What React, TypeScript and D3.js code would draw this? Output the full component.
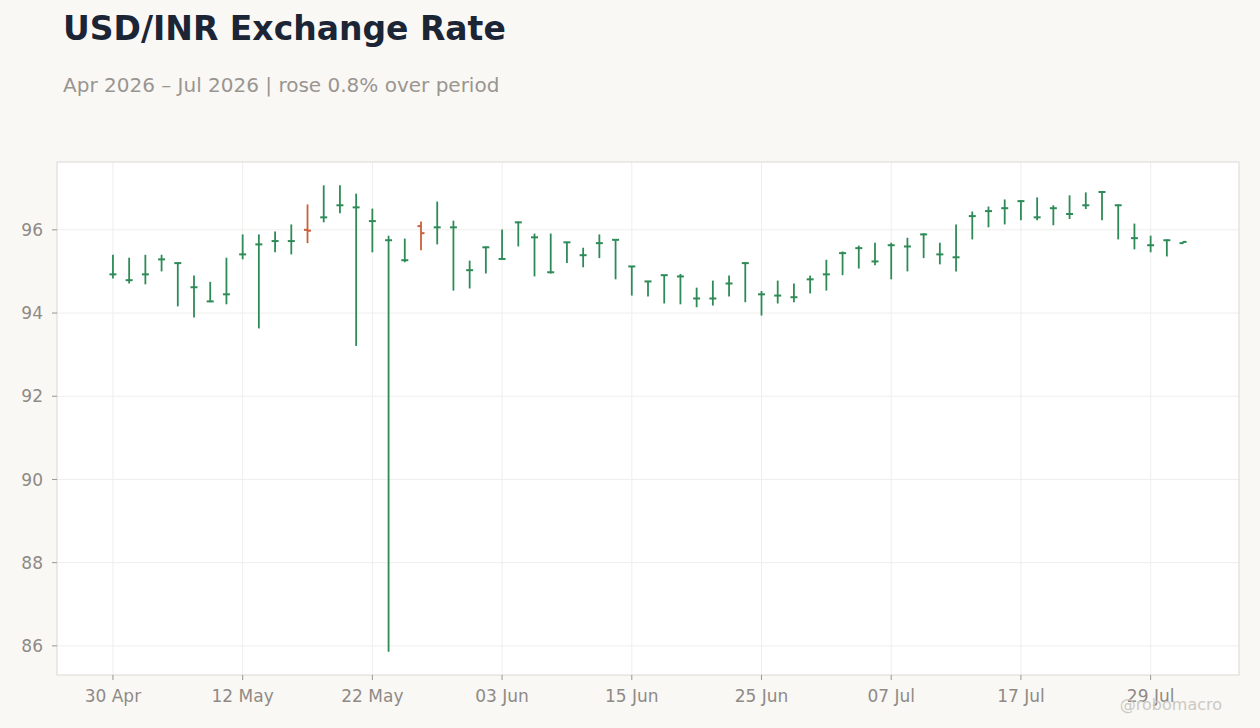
import React, { useMemo } from "react";
import * as d3 from "d3";

// trading days (weekdays) shown on the chart
const dates: string[] = [
	"2026-04-30", "2026-05-01", "2026-05-04", "2026-05-05", "2026-05-06", "2026-05-07", "2026-05-08",
	"2026-05-11", "2026-05-12", "2026-05-13", "2026-05-14", "2026-05-15", "2026-05-18", "2026-05-19",
	"2026-05-20", "2026-05-21", "2026-05-22", "2026-05-25", "2026-05-26", "2026-05-27", "2026-05-28",
	"2026-05-29", "2026-06-01", "2026-06-02", "2026-06-03", "2026-06-04", "2026-06-05", "2026-06-08",
	"2026-06-09", "2026-06-10", "2026-06-11", "2026-06-12", "2026-06-15", "2026-06-16", "2026-06-17",
	"2026-06-18", "2026-06-19", "2026-06-22", "2026-06-23", "2026-06-24", "2026-06-25", "2026-06-26",
	"2026-06-29", "2026-06-30", "2026-07-01", "2026-07-02", "2026-07-03", "2026-07-06", "2026-07-07",
	"2026-07-08", "2026-07-09", "2026-07-10", "2026-07-13", "2026-07-14", "2026-07-15", "2026-07-16",
	"2026-07-17", "2026-07-20", "2026-07-21", "2026-07-22", "2026-07-23", "2026-07-24", "2026-07-27",
	"2026-07-28", "2026-07-29", "2026-07-30", "2026-07-31"
];

const opens: number[] = [
	94.93, 94.79, 94.93, 95.29, 95.20, 94.62, 94.28, 94.45, 95.41, 95.65, 95.73, 95.73, 96.00, 96.30,
	96.59, 96.54, 96.21, 95.75, 95.27, 96.09, 96.06, 96.06, 95.03, 95.58, 95.30, 96.18, 95.82, 94.98,
	95.70, 95.39, 95.68, 95.76, 95.12, 94.76, 94.91, 94.88, 94.35, 94.35, 94.71, 95.20, 94.45, 94.42,
	94.38, 94.81, 94.93, 95.44, 95.56, 95.24, 95.63, 95.60, 95.89, 95.41, 95.34, 96.33, 96.45, 96.52,
	96.69, 96.30, 96.52, 96.38, 96.59, 96.91, 96.59, 95.80, 95.63, 95.75, 95.68
];

const highs: number[] = [
	95.40, 95.33, 95.40, 95.40, 95.22, 94.90, 94.75, 95.33, 95.89, 95.89, 95.96, 96.13, 96.61, 97.07,
	97.07, 96.87, 96.51, 95.86, 95.79, 96.20, 96.68, 96.22, 95.26, 95.60, 96.01, 96.20, 95.91, 95.91,
	95.71, 95.57, 95.89, 95.77, 95.13, 94.77, 94.92, 94.94, 94.61, 94.78, 94.90, 95.22, 94.53, 94.78,
	94.71, 94.90, 95.28, 95.48, 95.62, 95.69, 95.69, 95.81, 95.92, 95.69, 96.13, 96.44, 96.56, 96.73,
	96.71, 96.78, 96.59, 96.83, 96.90, 96.92, 96.61, 96.15, 95.86, 95.77, 95.72
];

const lows: number[] = [
	94.83, 94.71, 94.69, 95.00, 94.16, 93.89, 94.26, 94.21, 95.29, 93.63, 95.46, 95.41, 95.68, 96.18,
	96.40, 93.21, 95.46, 85.86, 95.22, 95.51, 95.65, 94.54, 94.59, 94.95, 95.28, 95.60, 94.88, 94.95,
	95.20, 95.10, 95.32, 94.81, 94.42, 94.40, 94.23, 94.21, 94.14, 94.18, 94.40, 94.26, 93.94, 94.23,
	94.26, 94.47, 94.54, 94.91, 95.07, 95.15, 94.81, 95.00, 95.32, 95.17, 95.00, 95.77, 96.06, 96.13,
	96.23, 96.23, 96.11, 96.26, 96.50, 96.23, 95.77, 95.53, 95.46, 95.36, 95.67
];

const closes: number[] = [
	94.93, 94.79, 94.93, 95.29, 95.20, 94.62, 94.28, 94.45, 95.41, 95.65, 95.73, 95.73, 95.98, 96.30,
	96.59, 96.54, 96.21, 95.75, 95.27, 95.92, 96.06, 96.06, 95.03, 95.58, 95.30, 96.18, 95.82, 94.98,
	95.70, 95.39, 95.68, 95.76, 95.12, 94.76, 94.91, 94.88, 94.35, 94.35, 94.71, 95.20, 94.45, 94.42,
	94.38, 94.81, 94.93, 95.44, 95.56, 95.24, 95.63, 95.60, 95.89, 95.41, 95.34, 96.33, 96.45, 96.52,
	96.69, 96.30, 96.52, 96.38, 96.59, 96.91, 96.59, 95.80, 95.63, 95.75, 95.71
];

const xTickDates: string[] = [
	"2026-04-30", "2026-05-12", "2026-05-22", "2026-06-03", "2026-06-15",
	"2026-06-25", "2026-07-07", "2026-07-17", "2026-07-29"
];

const yTicks: number[] = [86, 88, 90, 92, 94, 96];

const title = "USD/INR Exchange Rate";
const subtitle = "Apr 2026 – Jul 2026 | rose 0.8% over period";

const width = 1260;
const height = 728;
const plot = { left: 57, right: 1239, top: 162, bottom: 675 };

const upColor = "#2e8b57";
const downColor = "#c9603c";
const font = "DejaVu Sans, sans-serif";

export default function App() {
	const x = useMemo(
		() => d3.scaleLinear().domain([-3.45, dates.length - 1 + 3.45]).range([plot.left, plot.right]),
		[]
	);

	const y = useMemo(() => {
		const lo = d3.min(lows) as number;
		const hi = d3.max(highs) as number;
		const pad = (hi - lo) * 0.05;
		return d3.scaleLinear().domain([lo - pad, hi + pad]).range([plot.bottom, plot.top]);
	}, []);

	const fmt = d3.timeFormat("%d %b");
	const parse = d3.timeParse("%Y-%m-%d");
	const tick = 3.5;

	return (
		<svg
			width={width}
			height={height}
			style={{ position: "absolute", left: 0, top: 0, background: "#f9f8f5" }}
			fontFamily={font}
		>
			<rect x={0} y={0} width={width} height={height} fill="#f9f8f5" />

			<text x={63} y={40} fontSize={33} fontWeight="bold" fill="#1b2536">{title}</text>
			<text x={63} y={92} fontSize={20} fill="#9a9590">{subtitle}</text>

			<rect
				x={plot.left}
				y={plot.top}
				width={plot.right - plot.left}
				height={plot.bottom - plot.top}
				fill="#ffffff"
			/>

			{/* grid */}
			{yTicks.map((t) => (
				<line key={`gy-${t}`} x1={plot.left} x2={plot.right} y1={y(t)} y2={y(t)} stroke="#efeeec" strokeWidth={1} />
			))}
			{xTickDates.map((d) => {
				const xi = x(dates.indexOf(d));
				return <line key={`gx-${d}`} x1={xi} x2={xi} y1={plot.top} y2={plot.bottom} stroke="#efeeec" strokeWidth={1} />;
			})}

			{/* ohlc bars */}
			{dates.map((d, i) => {
				const cx = x(i);
				const color = closes[i] >= opens[i] ? upColor : downColor;
				return (
					<g key={d} stroke={color} strokeWidth={1.8}>
						<line x1={cx} x2={cx} y1={y(highs[i])} y2={y(lows[i])} />
						<line x1={cx - tick} x2={cx} y1={y(opens[i])} y2={y(opens[i])} strokeWidth={2} />
						<line x1={cx} x2={cx + tick} y1={y(closes[i])} y2={y(closes[i])} strokeWidth={2} />
					</g>
				);
			})}

			<rect
				x={plot.left}
				y={plot.top}
				width={plot.right - plot.left}
				height={plot.bottom - plot.top}
				fill="none"
				stroke="#dcd7d0"
				strokeWidth={1}
			/>

			{/* y axis */}
			{yTicks.map((t) => (
				<g key={`yt-${t}`}>
					<line x1={plot.left - 5} x2={plot.left} y1={y(t)} y2={y(t)} stroke="#9a9590" strokeWidth={1} />
					<text x={43} y={y(t)} dy="0.36em" textAnchor="end" fontSize={17} fill="#8f8a85">{t}</text>
				</g>
			))}

			{/* x axis */}
			{xTickDates.map((d) => {
				const xi = x(dates.indexOf(d));
				return (
					<g key={`xt-${d}`}>
						<line x1={xi} x2={xi} y1={plot.bottom} y2={plot.bottom + 5} stroke="#9a9590" strokeWidth={1} />
						<text x={xi} y={702} textAnchor="middle" fontSize={17} fill="#8f8a85">{fmt(parse(d) as Date)}</text>
					</g>
				);
			})}

			<text x={1222} y={710} textAnchor="end" fontSize={16} fill="#cdc9c4">@robomacro</text>
		</svg>
	);
}
